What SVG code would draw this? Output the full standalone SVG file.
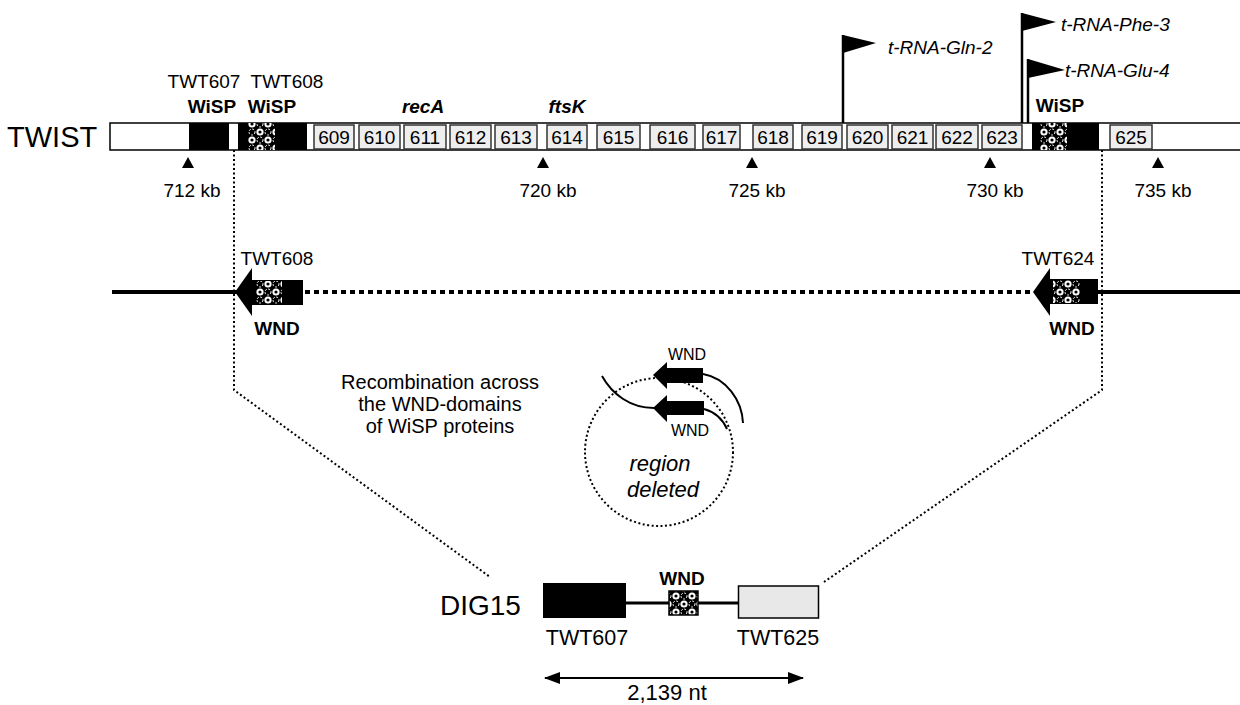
<svg xmlns="http://www.w3.org/2000/svg" width="1240" height="705" viewBox="0 0 1240 705">
<defs>
<pattern id="chk" width="16" height="16" patternUnits="userSpaceOnUse">
<rect width="16" height="16" fill="#000"/>
<circle cx="4" cy="4" r="3.6" fill="#fff"/>
<circle cx="12" cy="12" r="3.6" fill="#fff"/>
<circle cx="12" cy="4" r="3" fill="none" stroke="#fff" stroke-width="1" stroke-dasharray="2 1.5"/>
<circle cx="4" cy="12" r="3" fill="none" stroke="#fff" stroke-width="1" stroke-dasharray="2 1.5"/>
<circle cx="4" cy="4" r="1.6" fill="#000"/>
<circle cx="12" cy="12" r="1.6" fill="#000"/>
</pattern>
<marker id="ah" viewBox="0 0 16 12" refX="15" refY="6" markerWidth="16" markerHeight="12" markerUnits="userSpaceOnUse" orient="auto-start-reverse">
<path d="M0,0 L16,6 L0,12 z" fill="#000"/>
</marker>
</defs>
<style>
text{font-family:"Liberation Sans",Arial,sans-serif;fill:#000}
.t19{font-size:19px}
.b19{font-size:19px;font-weight:bold}
.it{font-style:italic}
.gene{fill:#eeeeee;stroke:#333;stroke-width:1.5}
.num{font-size:19px;text-anchor:middle}
.mid{text-anchor:middle}
.blk{fill:#000}
.dot{fill:none;stroke:#000;stroke-width:2;stroke-dasharray:2 2.5}
.thick{fill:none;stroke:#000;stroke-width:4}
.pole{stroke:#000;stroke-width:2.5}
.curve{fill:none;stroke:#000;stroke-width:2}
</style>
<rect width="1240" height="705" fill="#fff"/>

<g id="twist">
<text x="7" y="147" style="font-size:29px">TWIST</text>
<path d="M1242,123 H110 V150 H1242" fill="#fff" stroke="#000" stroke-width="1.5"/>
</g>

<g id="TWT607">
<rect x="189" y="123" width="40" height="27" class="blk"/>
<text x="204" y="88" class="t19 mid">TWT607</text>
<text x="212" y="113" class="b19 mid">WiSP</text>
</g>
<g id="TWT608">
<rect x="238" y="123" width="69" height="27" class="blk"/>
<rect x="248" y="123" width="27" height="27" fill="url(#chk)"/>
<text x="287" y="88" class="t19 mid">TWT608</text>
<text x="272" y="113" class="b19 mid">WiSP</text>
</g>
<g id="genes">
<rect x="314" y="125" width="40" height="24" class="gene"/><text x="334" y="144" class="num">609</text>
<rect x="359" y="125" width="41" height="24" class="gene"/><text x="379.5" y="144" class="num">610</text>
<rect x="404" y="125" width="42" height="24" class="gene"/><text x="425" y="144" class="num">611</text>
<rect x="450" y="125" width="41" height="24" class="gene"/><text x="470.5" y="144" class="num">612</text>
<rect x="495" y="125" width="42" height="24" class="gene"/><text x="516" y="144" class="num">613</text>
<rect x="547" y="125" width="40" height="24" class="gene"/><text x="567" y="144" class="num">614</text>
<rect x="597" y="125" width="43" height="24" class="gene"/><text x="618.5" y="144" class="num">615</text>
<rect x="650" y="125" width="45" height="24" class="gene"/><text x="672.5" y="144" class="num">616</text>
<rect x="703" y="125" width="37" height="24" class="gene"/><text x="721.5" y="144" class="num">617</text>
<rect x="753" y="125" width="40" height="24" class="gene"/><text x="773" y="144" class="num">618</text>
<rect x="802" y="125" width="40" height="24" class="gene"/><text x="822" y="144" class="num">619</text>
<rect x="847" y="125" width="41" height="24" class="gene"/><text x="867.5" y="144" class="num">620</text>
<rect x="892" y="125" width="41" height="24" class="gene"/><text x="912.5" y="144" class="num">621</text>
<rect x="936" y="125" width="42" height="24" class="gene"/><text x="957" y="144" class="num">622</text>
<rect x="982" y="125" width="40" height="24" class="gene"/><text x="1002" y="144" class="num">623</text>
<rect x="1110" y="125" width="42" height="24" class="gene"/><text x="1131" y="144" class="num">625</text>
<text x="423" y="113" class="b19 it mid">recA</text>
<text x="567" y="113" class="b19 it mid">ftsK</text>
</g>
<g id="TWT624">
<rect x="1032" y="123" width="67" height="27" class="blk"/>
<rect x="1040" y="123" width="27" height="27" fill="url(#chk)"/>
<text x="1060" y="112" class="b19 mid">WiSP</text>
</g>

<g id="trna">
<line x1="843" y1="35" x2="843" y2="123" class="pole"/>
<path d="M843,35 L876,43 L843,53 z" class="blk"/>
<text x="888" y="54" class="t19 it">t-RNA-Gln-2</text>
<line x1="1022" y1="13" x2="1022" y2="123" class="pole"/>
<path d="M1022,13 L1056,22 L1022,31 z" class="blk"/>
<text x="1061" y="31" class="t19 it">t-RNA-Phe-3</text>
<line x1="1028" y1="59" x2="1028" y2="123" class="pole"/>
<path d="M1028,59 L1065,70 L1028,78 z" class="blk"/>
<text x="1065" y="77" class="t19 it">t-RNA-Glu-4</text>
</g>

<g id="scale">
<path d="M188,157 L194,168 L182,168 z" class="blk"/><text x="192" y="197" class="t19 mid">712 kb</text>
<path d="M543,157 L549,168 L537,168 z" class="blk"/><text x="548" y="197" class="t19 mid">720 kb</text>
<path d="M752,157 L758,168 L746,168 z" class="blk"/><text x="757" y="197" class="t19 mid">725 kb</text>
<path d="M990,157 L996,168 L984,168 z" class="blk"/><text x="995" y="197" class="t19 mid">730 kb</text>
<path d="M1158,157 L1164,168 L1152,168 z" class="blk"/><text x="1163" y="197" class="t19 mid">735 kb</text>
</g>

<g id="connectors">
<path d="M234,150 V390 L490,577" class="dot"/>
<path d="M1102,150 V390 L824,582" class="dot"/>
<line x1="112" y1="292" x2="240" y2="292" class="thick"/>
<line x1="1095" y1="292" x2="1240" y2="292" class="thick"/>
<line x1="305" y1="292" x2="1033" y2="292" class="thick" stroke-dasharray="5 4"/>
<line x1="545" y1="678" x2="803" y2="678" stroke="#000" stroke-width="2" marker-start="url(#ah)" marker-end="url(#ah)"/>
</g>

<g id="mid-TWT608">
<path d="M235,292 L252,268 L252,280 L303,280 L303,305 L252,305 L252,316 z" class="blk"/>
<rect x="256" y="281" width="26" height="23" fill="url(#chk)"/>
<text x="277" y="265" class="t19 mid">TWT608</text>
<text x="277" y="335" class="b19 mid">WND</text>
</g>
<g id="mid-TWT624">
<path d="M1033,292 L1050,268 L1050,279 L1098,279 L1098,304 L1050,304 L1050,316 z" class="blk"/>
<rect x="1053" y="280" width="27" height="23" fill="url(#chk)"/>
<text x="1058" y="265" class="t19 mid">TWT624</text>
<text x="1072" y="335" class="b19 mid">WND</text>
</g>

<g id="recomb-text">
<text x="440" y="389" class="mid" style="font-size:20px">Recombination across</text>
<text x="440" y="411" class="mid" style="font-size:20px">the WND-domains</text>
<text x="440" y="433" class="mid" style="font-size:20px">of WiSP proteins</text>
</g>

<g id="deleted-circle">
<circle cx="659" cy="452" r="74" class="dot"/>
<path d="M653,375 L667,362 L667,368 L703,368 L703,383 L667,383 L667,389 z" class="blk"/>
<path d="M653,408 L667,395 L667,401 L704,401 L704,415 L667,415 L667,422 z" class="blk"/>
<path d="M703,374 C726,378 742,400 743,423" class="curve"/>
<path d="M602,376 C612,394 630,408 654,408" class="curve"/>
<path d="M704,409 C715,412 723,420 727,429" class="curve"/>
<text x="687" y="360" class="mid" style="font-size:16px">WND</text>
<text x="690" y="436" class="mid" style="font-size:16px">WND</text>
<text x="660" y="471" class="it mid" style="font-size:22px">region</text>
<text x="663" y="497" class="it mid" style="font-size:22px">deleted</text>
</g>

<g id="dig15">
<text x="440" y="615" style="font-size:28px">DIG15</text>
<line x1="626" y1="603" x2="738" y2="603" stroke="#000" stroke-width="3"/>
<rect x="543" y="583" width="83" height="35" class="blk"/>
<rect x="669" y="591" width="29" height="24" fill="url(#chk)" stroke="#000" stroke-width="1.5"/>
<rect x="738.5" y="586" width="80" height="32" fill="#e8e8e8" stroke="#000" stroke-width="1.5"/>
<text x="682" y="585" class="b19 mid">WND</text>
<text x="587" y="645" class="mid" style="font-size:21.5px">TWT607</text>
<text x="778" y="645" class="mid" style="font-size:21.5px">TWT625</text>
<text x="667" y="700" class="mid" style="font-size:22px">2,139 nt</text>
</g>
</svg>
